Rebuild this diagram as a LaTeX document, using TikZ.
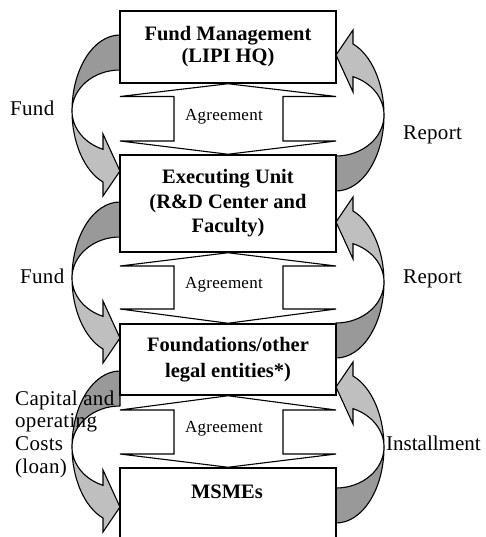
\documentclass[tikz,border=0pt]{standalone}
\usepackage{fontspec}
\setmainfont{Liberation Serif}
\newfontfamily\spacedserif[LetterSpace=1.5]{Liberation Serif}
\newcommand\curvedleft[1]{%
  \begin{scope}[shift={(120,#1)}]
    \draw[darkband] (0,-76) arc[start angle=270,end angle=180,x radius=48,y radius=76]
      arc[start angle=180,end angle=270,x radius=48,y radius=41] -- cycle;
    \draw[lightband] (-48,0) arc[start angle=180,end angle=110.74,x radius=48,y radius=76]
      -- (-17,85) -- (0,60) -- (-17,23) -- (-17,38.3)
      arc[start angle=110.74,end angle=180,x radius=48,y radius=41] -- cycle;
  \end{scope}}
\newcommand\curvedright[1]{%
  \begin{scope}[shift={(336,#1)},xscale=-1,yscale=-1]
    \draw[darkband] (0,-76) arc[start angle=270,end angle=180,x radius=48,y radius=76]
      arc[start angle=180,end angle=270,x radius=48,y radius=41] -- cycle;
    \draw[lightband] (-48,0) arc[start angle=180,end angle=110.74,x radius=48,y radius=76]
      -- (-17,85) -- (0,60) -- (-17,23) -- (-17,38.3)
      arc[start angle=110.74,end angle=180,x radius=48,y radius=41] -- cycle;
  \end{scope}}
% #1 upper box, #2 lower box, #3 upper wing y, #4 lower wing y
\newcommand\agreementarrow[4]{%
  \draw[agr] (#1.south) -- (336,#3) -- (283,#3) -- (283,#4) -- (336,#4) -- (#2.north)
    -- (120,#4) -- (174,#4) -- (174,#3) -- (120,#3) -- cycle;}
\begin{document}
\begin{tikzpicture}[x=1pt,y=-1pt,
  darkband/.style={fill=black!40,draw=black,line width=1.1pt,line join=round},
  lightband/.style={fill=black!25,draw=black,line width=1.1pt,line join=miter},
  box/.style={draw=black,line width=1.5pt,fill=white,minimum width=216pt,inner sep=0pt},
  agr/.style={draw=black,line width=1.1pt,fill=white,line join=miter},
  lbl/.style={font=\spacedserif\fontsize{21}{23}\selectfont,inner sep=0pt,anchor=base west},
  agrtext/.style={font=\spacedserif\fontsize{17}{20}\selectfont,inner sep=0pt,anchor=base}]
\useasboundingbox (0,0) rectangle (485,537);

% curved arrows
\curvedleft{111}
\curvedleft{278}
\curvedleft{447}
\curvedright{115}
\curvedright{282}
\curvedright{447}

% boxes
\node[box,minimum height=72,align=center,font=\bfseries\fontsize{20.5}{22}\selectfont] (b1) at (228,47)
  {Fund Management\\(LIPI HQ)};
\node[box,minimum height=97,align=center,font=\bfseries\fontsize{20.5}{24.5}\selectfont] (b2) at (228,203.5)
  {Executing Unit\\(R\&D Center and\\Faculty)};
\node[box,minimum height=71,align=center,font=\bfseries\fontsize{20.5}{26}\selectfont] (b3) at (228,359.5)
  {Foundations/other\\legal entities*)};
\node[box,minimum height=77] (b4) at (228,506.5) {};
\node[font=\bfseries\fontsize{20.5}{24}\selectfont,inner sep=0pt,anchor=base] (m4) at (227,498) {MSMEs};

% agreement double arrows
\agreementarrow{b1}{b2}{96.5}{141}
\agreementarrow{b2}{b3}{266}{309}
\agreementarrow{b3}{b4}{410}{454}
\node[agrtext] (a1) at (224,121) {Agreement};
\node[agrtext] (a2) at (224,288) {Agreement};
\node[agrtext] (a3) at (224,432) {Agreement};

% side labels
\node[lbl] (f1) at (10,116) {Fund};
\node[lbl] (r1) at (403,140) {Report};
\node[lbl] (f2) at (20,283) {Fund};
\node[lbl] (r2) at (403,283) {Report};
\node[lbl] (c1) at (15,405) {Capital and};
\node[lbl] (c2) at (15,427.5) {operating};
\node[lbl] (c3) at (15,450) {Costs};
\node[lbl] (c4) at (15,473) {(loan)};
\node[lbl,font=\fontsize{21}{23}\selectfont] (i3) at (386,450) {Installment};
\end{tikzpicture}
\end{document}
